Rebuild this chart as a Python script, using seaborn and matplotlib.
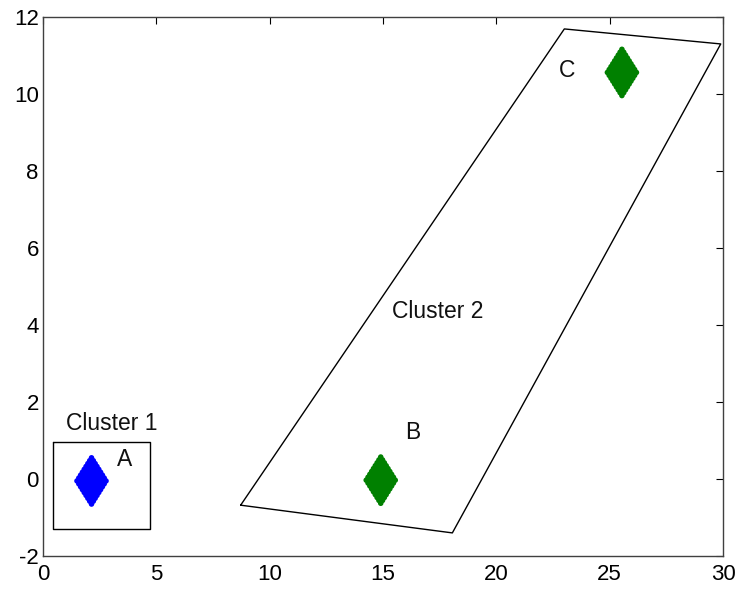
import numpy as np
import pandas as pd
import matplotlib
matplotlib.use("Agg")
import matplotlib.pyplot as plt
import seaborn as sns

# ---- data ----
# cluster centres
center_x = [2.14, 14.9, 25.54]
center_y = [-0.05, -0.03, 10.56]
center_cluster = ["Cluster 1", "Cluster 2", "Cluster 2"]

# diamond-shaped point cloud: offsets from each centre, row by row
diamond_row_dy = [0.6, 0.525, 0.45, 0.375, 0.3, 0.225, 0.15, 0.075, 0.0,
                  -0.075, -0.15, -0.225, -0.3, -0.375, -0.45, -0.525, -0.6]
diamond_row_dx = [
    [0.0],
    [-0.08, 0.08],
    [-0.16, 0.0, 0.16],
    [-0.24, -0.08, 0.08, 0.24],
    [-0.32, -0.16, 0.0, 0.16, 0.32],
    [-0.4, -0.24, -0.08, 0.08, 0.24, 0.4],
    [-0.48, -0.32, -0.16, 0.0, 0.16, 0.32, 0.48],
    [-0.56, -0.4, -0.24, -0.08, 0.08, 0.24, 0.4, 0.56],
    [-0.64, -0.48, -0.32, -0.16, 0.0, 0.16, 0.32, 0.48, 0.64],
    [-0.56, -0.4, -0.24, -0.08, 0.08, 0.24, 0.4, 0.56],
    [-0.48, -0.32, -0.16, 0.0, 0.16, 0.32, 0.48],
    [-0.4, -0.24, -0.08, 0.08, 0.24, 0.4],
    [-0.32, -0.16, 0.0, 0.16, 0.32],
    [-0.24, -0.08, 0.08, 0.24],
    [-0.16, 0.0, 0.16],
    [-0.08, 0.08],
    [0.0],
]

# boxes drawn around clusters
box1_x = [0.45, 4.7, 4.7, 0.45, 0.45]
box1_y = [0.95, 0.95, -1.3, -1.3, 0.95]
para_x = [8.72, 18.06, 29.9, 23.0, 8.72]
para_y = [-0.68, -1.40, 11.30, 11.69, -0.68]

# text labels
label_text = ["Cluster 1", "A", "B", "C", "Cluster 2"]
label_x = [3.02, 3.6, 16.3, 23.1, 17.4]
label_y = [1.45, 0.5, 1.22, 10.6, 4.36]

x_ticks = [0, 5, 10, 15, 20, 25, 30]
y_ticks = [-2, 0, 2, 4, 6, 8, 10, 12]

# ---- build table ----
rows = []
for cx, cy, cl in zip(center_x, center_y, center_cluster):
    for dy, dxs in zip(diamond_row_dy, diamond_row_dx):
        for dx in dxs:
            rows.append({"x": cx + dx, "y": cy + dy, "cluster": cl})
df = pd.DataFrame(rows)

sns.set_style("white")
plt.rcParams["font.family"] = ["Liberation Sans", "DejaVu Sans"]
plt.rcParams["axes.unicode_minus"] = False

fig = plt.figure(figsize=(7.44, 5.91), dpi=100)
ax = fig.add_axes([43 / 744, 35 / 591, 680 / 744, 539 / 591])

sns.scatterplot(data=df, x="x", y="y", hue="cluster",
                palette={"Cluster 1": "#0000ff", "Cluster 2": "#008000"},
                s=16, edgecolor="none", legend=False, ax=ax)

ax.plot(box1_x, box1_y, color="black", lw=1.0)
ax.plot(para_x, para_y, color="black", lw=1.0)

for t, lx, ly in zip(label_text, label_x, label_y):
    ax.text(lx, ly, t, fontsize=16.5, ha="center", va="center", color="#111111")

ax.set_xlim(0, 30)
ax.set_ylim(-2, 12)
ax.set_xticks(x_ticks)
ax.set_yticks(y_ticks)
ax.set_xlabel("")
ax.set_ylabel("")
ax.tick_params(direction="in", length=5, width=0.8, labelsize=16,
               top=True, right=True, colors="black")
ax.tick_params(axis="y", pad=3)
ax.tick_params(axis="x", pad=6)
for sp in ax.spines.values():
    sp.set_visible(True)
    sp.set_color("#404040")
    sp.set_linewidth(1.0)

fig.savefig("out.png", dpi=100)
